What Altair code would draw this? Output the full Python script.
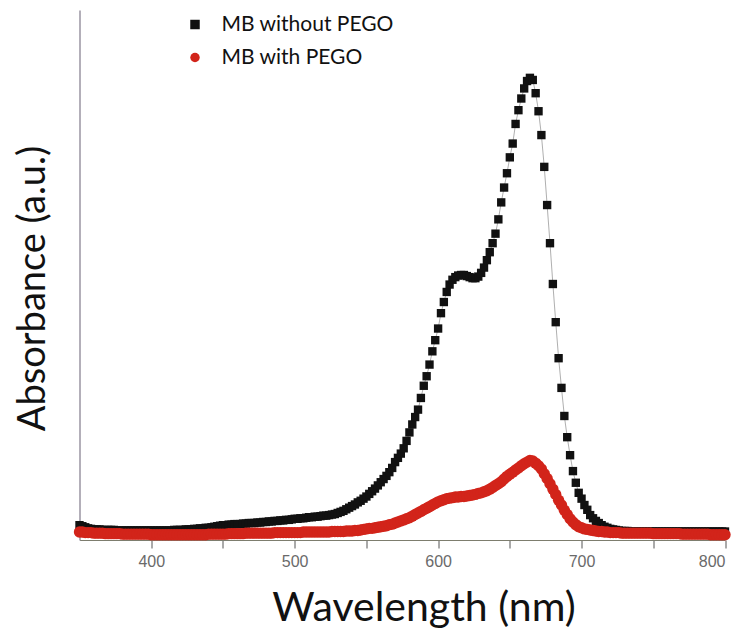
import altair as alt
import pandas as pd

# Sampling grid of the spectra (nm)
wavelength_nm = list(range(350, 801, 2))

# Absorbance (arbitrary units, 0..1 of the y axis)
mb_without_pego = [
    0.028, 0.026, 0.024, 0.022, 0.021, 0.020, 0.020, 0.020, 0.019, 0.019,
    0.019, 0.019, 0.019, 0.018, 0.018, 0.018, 0.018, 0.018, 0.018, 0.018,
    0.018, 0.018, 0.018, 0.018, 0.018, 0.018, 0.018, 0.018, 0.018, 0.018,
    0.018, 0.018, 0.018, 0.019, 0.019, 0.019, 0.019, 0.020, 0.020, 0.020,
    0.021, 0.021, 0.022, 0.022, 0.023, 0.023, 0.024, 0.025, 0.026, 0.027,
    0.028, 0.028, 0.029, 0.029, 0.030, 0.030, 0.030, 0.031, 0.031, 0.032,
    0.032, 0.032, 0.033, 0.033, 0.034, 0.034, 0.035, 0.035, 0.036, 0.036,
    0.037, 0.037, 0.038, 0.038, 0.039, 0.040, 0.040, 0.041, 0.041, 0.042,
    0.043, 0.043, 0.044, 0.044, 0.045, 0.046, 0.046, 0.047, 0.048, 0.049,
    0.051, 0.053, 0.055, 0.058, 0.061, 0.064, 0.067, 0.071, 0.074, 0.078,
    0.082, 0.087, 0.092, 0.097, 0.103, 0.109, 0.115, 0.121, 0.128, 0.136,
    0.147, 0.155, 0.163, 0.173, 0.187, 0.203, 0.218, 0.232, 0.246, 0.268,
    0.291, 0.309, 0.331, 0.356, 0.377, 0.399, 0.428, 0.449, 0.468, 0.482,
    0.491, 0.496, 0.499, 0.500, 0.500, 0.498, 0.496, 0.494, 0.494, 0.497,
    0.504, 0.514, 0.528, 0.543, 0.560, 0.578, 0.605, 0.637, 0.665, 0.692,
    0.722, 0.748, 0.785, 0.811, 0.833, 0.852, 0.866, 0.872, 0.868, 0.843,
    0.809, 0.764, 0.704, 0.632, 0.560, 0.483, 0.411, 0.343, 0.287, 0.234,
    0.194, 0.160, 0.130, 0.108, 0.089, 0.078, 0.066, 0.057, 0.047, 0.041,
    0.036, 0.032, 0.028, 0.025, 0.023, 0.021, 0.020, 0.019, 0.018, 0.017,
    0.017, 0.017, 0.016, 0.016, 0.016, 0.016, 0.016, 0.016, 0.016, 0.016,
    0.016, 0.016, 0.016, 0.016, 0.016, 0.016, 0.016, 0.016, 0.016, 0.016,
    0.016, 0.016, 0.016, 0.016, 0.016, 0.016, 0.016, 0.016, 0.016, 0.016,
    0.016, 0.016, 0.016, 0.016, 0.016, 0.016,
]

mb_with_pego = [
    0.015, 0.015, 0.014, 0.014, 0.014, 0.013, 0.013, 0.013, 0.013, 0.012,
    0.012, 0.012, 0.012, 0.012, 0.012, 0.011, 0.011, 0.011, 0.011, 0.011,
    0.011, 0.011, 0.011, 0.011, 0.011, 0.010, 0.010, 0.010, 0.010, 0.010,
    0.010, 0.010, 0.010, 0.010, 0.010, 0.010, 0.010, 0.010, 0.010, 0.010,
    0.010, 0.010, 0.010, 0.010, 0.010, 0.011, 0.011, 0.011, 0.011, 0.011,
    0.011, 0.011, 0.012, 0.012, 0.012, 0.012, 0.012, 0.012, 0.013, 0.013,
    0.013, 0.013, 0.013, 0.013, 0.013, 0.013, 0.013, 0.013, 0.014, 0.014,
    0.014, 0.014, 0.014, 0.014, 0.014, 0.014, 0.014, 0.014, 0.015, 0.015,
    0.015, 0.015, 0.015, 0.015, 0.015, 0.015, 0.015, 0.015, 0.016, 0.016,
    0.016, 0.016, 0.016, 0.017, 0.017, 0.017, 0.018, 0.018, 0.019, 0.020,
    0.021, 0.022, 0.022, 0.023, 0.024, 0.025, 0.026, 0.027, 0.029, 0.030,
    0.032, 0.034, 0.036, 0.038, 0.040, 0.042, 0.045, 0.048, 0.051, 0.054,
    0.057, 0.060, 0.063, 0.066, 0.069, 0.072, 0.074, 0.076, 0.078, 0.079,
    0.080, 0.081, 0.081, 0.082, 0.082, 0.083, 0.084, 0.085, 0.086, 0.088,
    0.089, 0.091, 0.093, 0.096, 0.099, 0.103, 0.106, 0.110, 0.115, 0.120,
    0.124, 0.128, 0.132, 0.136, 0.140, 0.144, 0.147, 0.150, 0.149, 0.145,
    0.140, 0.134, 0.125, 0.116, 0.106, 0.096, 0.086, 0.075, 0.066, 0.056,
    0.048, 0.040, 0.034, 0.029, 0.025, 0.023, 0.021, 0.020, 0.019, 0.018,
    0.017, 0.016, 0.016, 0.015, 0.015, 0.014, 0.014, 0.014, 0.014, 0.013,
    0.013, 0.013, 0.013, 0.013, 0.013, 0.013, 0.013, 0.013, 0.013, 0.013,
    0.012, 0.012, 0.012, 0.012, 0.012, 0.012, 0.012, 0.012, 0.012, 0.012,
    0.011, 0.011, 0.011, 0.011, 0.011, 0.011, 0.011, 0.011, 0.011, 0.011,
    0.010, 0.010, 0.010, 0.010, 0.010, 0.010,
]

series_names = ["MB without PEGO", "MB with PEGO"]
series_colors = ["#111111", "#d2241a"]
series_shapes = ["square", "circle"]
x_tick_values = [400, 450, 500, 550, 600, 650, 700, 750, 800]

n = len(wavelength_nm)
df = pd.DataFrame({
    "wavelength": wavelength_nm + wavelength_nm,
    "absorbance": mb_without_pego[:n] + mb_with_pego[:n],
    "series": [series_names[0]] * n + [series_names[1]] * n,
})

FONT = "Lato"

x_enc = alt.X(
    "wavelength:Q",
    scale=alt.Scale(domain=[350, 800], nice=False, zero=False),
    axis=alt.Axis(
        values=x_tick_values,
        labelExpr="datum.value % 100 == 0 ? datum.label : ''",
        title="Wavelength (nm)",
        titleFont=FONT,
        titleFontSize=41,
        titleFontWeight="normal",
        titleColor="#111111",
        titleX=344,
        titleY=80,
        titleAlign="center",
        titleBaseline="alphabetic",
        labelFont="Liberation Sans",
        labelFontSize=16,
        labelColor="#6a6a6a",
        labelPadding=5,
        tickSize=8,
        tickColor="#555555",
        domainColor="#7d7d6e",
        domainWidth=1.2,
        grid=False,
    ),
)

y_enc = alt.Y(
    "absorbance:Q",
    scale=alt.Scale(domain=[0, 1], nice=False, zero=True),
    axis=alt.Axis(
        labels=False,
        ticks=False,
        grid=False,
        title="Absorbance (a.u.)",
        titleFont=FONT,
        titleFontSize=38,
        titleFontWeight="normal",
        titleColor="#111111",
        titleAngle=270,
        titleX=-46,
        titleY=278,
        titleAlign="center",
        titleBaseline="middle",
        domainColor="#9a94a2",
        domainWidth=1.5,
    ),
)

legend = alt.Legend(
    title=None,
    orient="none",
    legendX=105,
    legendY=4,
    labelFont=FONT,
    labelFontSize=21,
    labelColor="#111111",
    labelLimit=0,
    labelOffset=16,
    symbolSize=90,
    symbolStrokeWidth=0,
    rowPadding=11,
    padding=0,
)

color_enc = alt.Color(
    "series:N",
    scale=alt.Scale(domain=series_names, range=series_colors),
    legend=legend,
)
shape_enc = alt.Shape(
    "series:N",
    scale=alt.Scale(domain=series_names, range=series_shapes),
    legend=legend,
)

base = alt.Chart(df)

black_line = base.transform_filter(
    alt.datum.series == series_names[0]
).mark_line(color="#9a9a9a", strokeWidth=0.8).encode(x=x_enc, y=y_enc)

black_pts = base.transform_filter(
    alt.datum.series == series_names[0]
).mark_point(filled=True, size=70, opacity=1, strokeWidth=0).encode(
    x=x_enc, y=y_enc, color=color_enc, shape=shape_enc
)

red_pts = base.transform_filter(
    alt.datum.series == series_names[1]
).mark_point(filled=True, size=130, opacity=1, strokeWidth=0).encode(
    x=x_enc, y=y_enc, color=color_enc, shape=shape_enc
)

chart = alt.layer(black_line, black_pts, red_pts).properties(
    width=645.5,
    height=530,
    autosize=alt.AutoSizeParams(type="none"),
    padding={"left": 71.5, "top": 2, "right": 10, "bottom": 89},
    background="white",
).configure_view(stroke=None)

chart.save("out.html", embed_options={"renderer": "svg", "actions": False})
